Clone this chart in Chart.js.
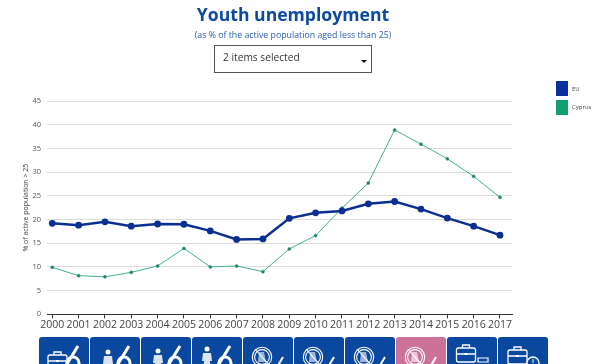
<!DOCTYPE html>
<html><head><meta charset="utf-8">
<script src="https://cdn.jsdelivr.net/npm/chart.js@4"></script>
<style>
html,body{margin:0;padding:0;background:#fff;overflow:hidden;width:600px;height:364px;font-family:"Open Sans",sans-serif}
#c{position:absolute;left:0;top:0}
.t{position:absolute;left:93px;width:400px;text-align:center;white-space:nowrap}
#title{top:2px;font-size:17.6px;font-weight:700;color:#0b4a9e;line-height:25px}
#sub{top:28.5px;font-size:8.8px;color:#2a62ad;line-height:13px}
#sel{position:absolute;left:214px;top:45px;width:156px;height:26px;border:1px solid #555;font-size:10.2px;color:#333;line-height:22px;text-indent:8px}
#sel i{position:absolute;left:146px;top:14px;width:0;height:0;border:3px solid transparent;border-top:3.5px solid #111;border-bottom:0}
.lg{position:absolute;left:556px;width:12px;height:15px}
.ll{position:absolute;left:572px;font-size:6px;color:#444;line-height:10px}
.b{position:absolute;top:337px;width:49.5px;height:40px;border-radius:3px;background:#0a479e}
.b.p{background:#cc7198}
.b svg{position:absolute;left:0;top:0}
</style></head><body>
<canvas id="c" width="600" height="364"></canvas>
<div class="t" id="title">Youth unemployment</div>
<div class="t" id="sub">(as % of the active population aged less than 25)</div>
<div id="sel">2 items selected<i></i></div>
<div class="lg" style="top:81px;background:#0d2f9e"></div><div class="ll" style="top:84px">EU</div>
<div class="lg" style="top:100px;background:#12a073"></div><div class="ll" style="top:102px">Cyprus</div>
<div id="btns"></div>
<script>
const years=[2000,2001,2002,2003,2004,2005,2006,2007,2008,2009,2010,2011,2012,2013,2014,2015,2016,2017];
const euValues=[19.2,18.8,19.5,18.6,19.05,19.0,17.6,15.8,15.9,20.25,21.4,21.8,23.3,23.8,22.2,20.3,18.6,16.7];
const cyprusValues=[9.9,8.15,7.9,8.85,10.2,13.9,10.0,10.2,9.0,13.8,16.6,22.4,27.7,38.9,35.9,32.8,29.1,24.7];
const seriesNames=["EU","Cyprus"];
const yAxisTitle="% of active population > 25";

const pts=a=>a.map((v,i)=>({x:years[i],y:v}));
new Chart(document.getElementById('c'),{
  type:'line',
  data:{datasets:[
    {label:seriesNames[1],data:pts(cyprusValues),borderColor:'#43b08e',borderWidth:1,tension:0,
     pointRadius:1.5,pointBackgroundColor:'#1a8a64',pointBorderColor:'#1a8a64',pointBorderWidth:0.5,order:2},
    {label:seriesNames[0],data:pts(euValues),borderColor:'#0b2f91',borderWidth:2.5,tension:0,
     pointRadius:3.4,pointBackgroundColor:'#0b2f91',pointBorderColor:'#0b2f91',pointBorderWidth:0,order:1}
  ]},
  options:{
    responsive:false,animation:false,
    layout:{padding:{left:0,right:88,top:101,bottom:0}},
    plugins:{legend:{display:false},title:{display:false},tooltip:{enabled:false}},
    scales:{
      x:{type:'linear',min:1999.8,max:2017.456,
        afterFit(s){s.height=49.7},
        border:{color:'#333',width:1},
        grid:{drawOnChartArea:false,tickLength:4,tickColor:'#333',drawTicks:true},
        ticks:{stepSize:1,includeBounds:false,autoSkip:false,maxRotation:0,minRotation:0,padding:0,
          color:'#444',font:{family:'"Open Sans"',size:10.5},callback:v=>String(v)}},
      y:{min:0,max:45,
        afterFit(s){s.width=47},
        border:{display:false},
        grid:{color:'#dcdcdc',lineWidth:1,tickLength:0,drawTicks:false},
        title:{display:true,text:yAxisTitle,color:'#444',font:{family:'"Open Sans"',size:7},padding:{top:22,bottom:0}},
        ticks:{stepSize:5,padding:6,color:'#555',font:{family:'"Open Sans"',size:7.5}}}
    }
  }
});

const W='#fff';
const pctBig=(x)=>`<path d="M${x+6} 9 L${x-7} 30" stroke="${W}" stroke-width="3" fill="none"/><circle cx="${x+1}" cy="26" r="6" fill="none" stroke="${W}" stroke-width="3"/>`;
const pctSmall=`<path d="M40 20 L34 30" stroke="${W}" stroke-width="2" fill="none"/>`;
const brief=(x,y)=>`<g fill="none" stroke="${W}" stroke-width="1.3"><rect x="${x}" y="${y+4}" width="19" height="14" rx="2"/><path d="M${x+6} ${y+4}v-3h7v3M${x} ${y+10}h19"/></g><rect x="${x+8}" y="${y+9}" width="3" height="2" fill="${W}"/>`;
const person=(x,y)=>`<circle cx="${x}" cy="${y}" r="2.5" fill="${W}"/><path d="M${x-4} ${y+4}h8l1 8h-2v6h-6v-6h-2z" fill="${W}" opacity=".85"/>`;
const no=`<g fill="none" stroke="${W}" stroke-width="1.1"><circle cx="19" cy="20" r="9.7"/><circle cx="19" cy="20" r="7.4"/><path d="M12 12L26 28"/></g><path d="M16 15h5l2 10h-8z" fill="${W}" opacity=".6"/>`;
const icons=[
 brief(9,14)+pctBig(33),person(18,15)+pctBig(33),person(17,14)+pctBig(33),person(15,12)+pctBig(32),
 no+pctSmall,no+pctSmall,no+pctSmall,no+pctSmall,
 brief(9.5,7)+`<path d="M31 21h10v4h-10z" fill="none" stroke="${W}" stroke-width="1.2"/>`,
 brief(10,9)+`<circle cx="35" cy="26" r="6" fill="#0a479e" stroke="${W}" stroke-width="1.3"/><path d="M35 22v4" stroke="${W}"/>`
];
const host=document.getElementById('btns');
icons.forEach((s,i)=>{
  const d=document.createElement('div');
  d.className='b'+(i===7?' p':'');
  d.style.left=(39+i*51.05)+'px';
  d.innerHTML=`<svg width="50" height="27" viewBox="0 0 50 27">${s}</svg>`;
  host.appendChild(d);
});
</script>
</body></html>
